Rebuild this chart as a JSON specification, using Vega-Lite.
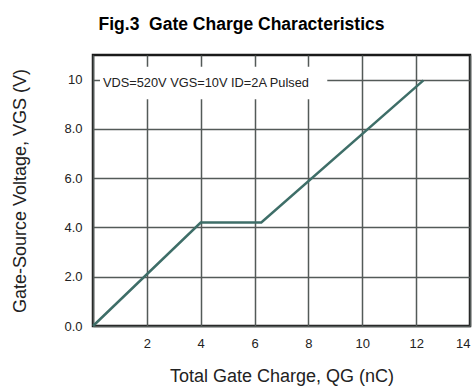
{
  "$schema": "https://vega.github.io/schema/vega-lite/v6.json",
  "autosize": "none",
  "padding": {"left": 93, "top": 55, "right": 3, "bottom": 63},
  "width": 377,
  "height": 271,
  "config": {
    "font": "Liberation Sans",
    "view": {"stroke": "#1a1a1a", "strokeWidth": 2.5},
    "axis": {"domain": false, "ticks": false, "gridColor": "#535a58", "gridWidth": 1.5, "gridOpacity": 1, "labelColor": "#222", "labelFontSize": 13, "titleFontSize": 18, "titleFontWeight": "normal", "titleColor": "#222", "labelFont": "Liberation Sans", "titleFont": "Liberation Sans"}
  },
  "title": {"text": "Fig.3\u00a0\u00a0Gate Charge Characteristics", "fontSize": 17.5, "fontWeight": "bold", "font": "Liberation Sans", "color": "#000", "anchor": "middle", "dx": -40, "offset": 22},
  "datasets": {
    "curve": [
      {"qg": 0, "vgs": 0},
      {"qg": 4.0, "vgs": 4.2},
      {"qg": 6.25, "vgs": 4.2},
      {"qg": 12.27, "vgs": 9.97}
    ],
    "note": [
      {"label": "VDS=520V VGS=10V ID=2A Pulsed"}
    ]
  },
  "layer": [
    {
      "data": {"name": "curve"},
      "mark": {"type": "line", "color": "#3e6e68", "strokeWidth": 2.5},
      "encoding": {
        "x": {"field": "qg", "type": "quantitative", "scale": {"domain": [0, 14], "nice": false}, "axis": {"values": [0, 2, 4, 6, 8, 10, 12, 14], "labelExpr": "datum.value == 0 ? '' : datum.label", "labelPadding": 11, "title": "Total Gate Charge, QG (nC)", "titlePadding": 17}},
        "y": {"field": "vgs", "type": "quantitative", "scale": {"domain": [0, 11], "nice": false}, "axis": {"values": [0, 1, 2, 3, 4, 5, 6, 7, 8, 9, 10, 11], "labelExpr": "datum.value == 10 ? '10' : (datum.value % 2 == 0 && datum.value < 11 ? format(datum.value, '.1f') : '')", "labelPadding": 11, "title": "Gate-Source Voltage, VGS (V)", "titlePadding": 34}}
      }
    },
    {
      "data": {"name": "note"},
      "mark": {"type": "rect", "fill": "white"},
      "encoding": {
        "x": {"datum": 0.26, "type": "quantitative"},
        "x2": {"datum": 8.7},
        "y": {"datum": 10.52, "type": "quantitative"},
        "y2": {"datum": 9.2}
      }
    },
    {
      "data": {"name": "note"},
      "mark": {"type": "text", "align": "left", "baseline": "middle", "fontSize": 12.8, "color": "#222", "font": "Liberation Sans"},
      "encoding": {
        "x": {"datum": 0.37, "type": "quantitative"},
        "y": {"datum": 9.85, "type": "quantitative"},
        "text": {"field": "label"}
      }
    }
  ]
}
